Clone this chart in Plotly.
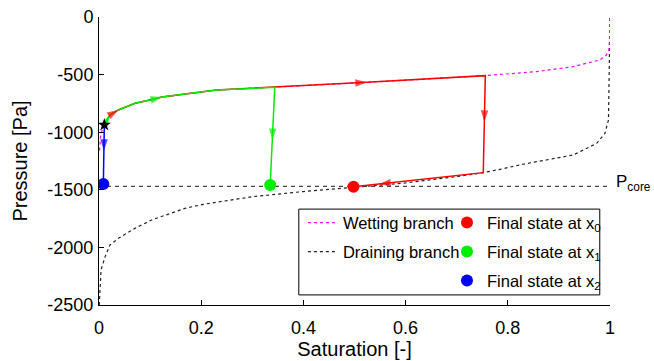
import plotly.graph_objects as go

# ---------------- data ----------------
wet_x = [0.001, 0.003, 0.006, 0.0104, 0.0215, 0.038, 0.0705, 0.1, 0.123, 0.23, 0.3425,
         0.524, 0.755, 0.8565, 0.928, 0.98, 0.993, 0.998, 0.9995, 1.0]
wet_y = [-1160, -1040, -985, -937, -850, -807, -749, -720, -695, -634, -610,
         -567, -509, -474, -431, -373, -330, -286, -150, 0]

drain_x = [0.0005, 0.002, 0.004, 0.012, 0.0215, 0.038, 0.07, 0.103, 0.168, 0.204, 0.3, 0.4,
           0.5, 0.6, 0.7, 0.752, 0.785, 0.832, 0.928, 0.974, 0.99, 0.997, 0.998, 0.999, 1.0]
drain_y = [-2500, -2350, -2196, -2080, -1979, -1921, -1835, -1762, -1661, -1626, -1560, -1515,
           -1478, -1440, -1385, -1351, -1322, -1276, -1198, -1097, -1010, -894, -600, -373, 0]

p_core = -1470
p_core_x = [0, 1]

red_x = [0.0104, 0.0215, 0.038, 0.0705, 0.1, 0.123, 0.23, 0.3425, 0.524, 0.756, 0.752, 0.498]
red_y = [-937, -850, -807, -749, -720, -695, -634, -610, -567, -509, -1351, -1473]

green_x = [0.0104, 0.0215, 0.038, 0.0705, 0.1, 0.123, 0.23, 0.344, 0.335]
green_y = [-937, -850, -807, -749, -720, -695, -634, -610, -1458]

blue_x = [0.0104, 0.0085]
blue_y = [-937, -1450]

final_x = [0.498, 0.335, 0.0085]
final_y = [-1473, -1458, -1450]
final_names = ["Final state at x<sub>0</sub>", "Final state at x<sub>1</sub>", "Final state at x<sub>2</sub>"]
final_colors = ["#ff0000", "#00ee00", "#0000ff"]

start_x = [0.0104]
start_y = [-937]

# arrows: previous point on the path -> arrow position
arrow_prev_x = [0.0104, 0.1, 0.0215, 0.3425, 0.756, 0.752, 0.344, 0.0104]
arrow_prev_y = [-937, -720, -850, -610, -509, -1351, -610, -937]
arrow_x = [0.0215, 0.123, 0.038, 0.524, 0.754, 0.5486, 0.339, 0.0095]
arrow_y = [-850, -695, -807, -567, -909, -1450, -1068, -1160]
arrow_color = ["#00ee00", "#00ee00", "#ff0000", "#ff0000", "#ff0000", "#ff0000", "#00ee00", "#0000ff"]

x_ticks = [0, 0.2, 0.4, 0.6, 0.8, 1]
x_ticklabels = ["0", "0.2", "0.4", "0.6", "0.8", "1"]
y_ticks = [0, -500, -1000, -1500, -2000, -2500]
y_ticklabels = ["0", "-500", "-1000", "-1500", "-2000", "-2500"]

FONT = "Liberation Sans, Arial, Helvetica, sans-serif"

fig = go.Figure()

fig.add_trace(go.Scatter(x=drain_x, y=drain_y, mode="lines", name="Draining branch",
                         line=dict(color="#222222", width=1.2, dash="dot"),
                         legend="legend", legendgroup="d", legendrank=2))
fig.add_trace(go.Scatter(x=wet_x, y=wet_y, mode="lines", name="Wetting branch",
                         line=dict(color="#ff00ff", width=1.2, dash="dot"),
                         legend="legend", legendgroup="w", legendrank=1))
fig.add_trace(go.Scatter(x=p_core_x, y=[p_core, p_core], mode="lines", showlegend=False,
                         line=dict(color="#444444", width=1.2, dash="4px,4px")))

fig.add_trace(go.Scatter(x=red_x, y=red_y, mode="lines", showlegend=False,
                         line=dict(color="#ff0000", width=1.5)))
fig.add_trace(go.Scatter(x=green_x, y=green_y, mode="lines", showlegend=False,
                         line=dict(color="#00ee00", width=1.5)))
fig.add_trace(go.Scatter(x=blue_x, y=blue_y, mode="lines", showlegend=False,
                         line=dict(color="#0000ff", width=1.5)))

for px, py, ax, ay, c in zip(arrow_prev_x, arrow_prev_y, arrow_x, arrow_y, arrow_color):
    fig.add_trace(go.Scatter(x=[px, ax], y=[py, ay], mode="markers", showlegend=False,
                             marker=dict(symbol="arrow", size=[0, 12], color=c,
                                         angleref="previous", line=dict(width=0))))

for i in range(3):
    fig.add_trace(go.Scatter(x=[final_x[i]], y=[final_y[i]], mode="markers",
                             name=final_names[i], legend="legend2", legendgroup="f%d" % i,
                             marker=dict(symbol="circle", size=12, color=final_colors[i])))

fig.add_trace(go.Scatter(x=start_x, y=start_y, mode="markers", showlegend=False,
                         marker=dict(symbol="star", size=10, color="black")))

axis_common = dict(showgrid=False, zeroline=False, showline=True, linecolor="black",
                   linewidth=1, ticks="inside", ticklen=5, tickcolor="black", mirror=False,
                   automargin=False,
                   tickfont=dict(size=18, family=FONT, color="black"))

fig.update_layout(
    width=654, height=361,
    margin=dict(l=99, r=44, t=17, b=56, autoexpand=False),
    plot_bgcolor="white", paper_bgcolor="white",
    font=dict(family=FONT, size=18, color="black"),
    xaxis=dict(range=[0, 1], tickvals=x_ticks, ticktext=x_ticklabels,
               ticklabelstandoff=6,
               title=dict(text="Saturation [-]", font=dict(size=20), standoff=3),
               **axis_common),
    yaxis=dict(range=[-2500, 0], tickvals=y_ticks, ticktext=y_ticklabels,
               ticklabelstandoff=1,
               title=dict(text="Pressure [Pa]", font=dict(size=20), standoff=14),
               **axis_common),
    legend=dict(x=0.399, y=0.346, xanchor="left", yanchor="top", bgcolor="rgba(0,0,0,0)",
                borderwidth=0, font=dict(size=16.5), tracegroupgap=4.5),
    legend2=dict(x=0.681, y=0.346, xanchor="left", yanchor="top", bgcolor="rgba(0,0,0,0)",
                 borderwidth=0, font=dict(size=16.5), tracegroupgap=4.5, itemsizing="constant"),
    shapes=[dict(type="rect", xref="paper", yref="paper", x0=0.391, x1=0.980, y0=0.035, y1=0.333,
                 line=dict(color="black", width=1), fillcolor="white", layer="above")],
    annotations=[dict(text="P<sub>core</sub>", xref="paper", yref="y", x=1, y=p_core,
                      xanchor="left", yanchor="middle", xshift=4, yshift=3, showarrow=False,
                      font=dict(size=17, family=FONT, color="black"))],
)

# remove the browser's default 8px page margin so the figure fills the window exactly
fig.write_html("out.html", config={"displayModeBar": False},
               post_script="document.body.style.margin='0px';")
